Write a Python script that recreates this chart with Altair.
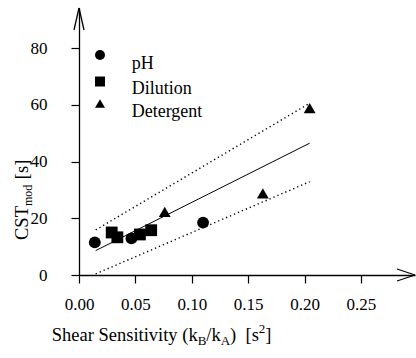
import altair as alt
import pandas as pd

# ---------------- data ----------------
groups = ["pH", "Dilution", "Detergent"]
shapes = ["circle", "square", "triangle-up"]
ph_x = [0.014, 0.0465, 0.110]
ph_y = [11.5, 12.9, 18.5]
dil_x = [0.029, 0.034, 0.054, 0.064]
dil_y = [15.0, 13.3, 14.3, 15.8]
det_x = [0.076, 0.163, 0.2045]
det_y = [22.3, 28.8, 58.9]

fit_x = [0.0148, 0.2045]
fit_y = [8.6, 46.5]
upper_y = [15.9, 60.6]
lower_y = [0.4, 32.9]

x_ticks = [0.0, 0.05, 0.10, 0.15, 0.20, 0.25]
y_ticks = [0, 20, 40, 60, 80]

# ---------------- layout ----------------
W, H = 336, 267
X_MAX, Y_MAX = 0.2979, 94.2
FONT = "Liberation Serif"

pts = pd.DataFrame(
    {"x": ph_x + dil_x + det_x,
     "y": ph_y + dil_y + det_y,
     "group": ["pH"] * len(ph_x) + ["Dilution"] * len(dil_x) + ["Detergent"] * len(det_x)}
)
fit = pd.DataFrame({"x": fit_x, "y": fit_y})
bands = pd.DataFrame({"x": fit_x + fit_x, "y": upper_y + lower_y,
                      "band": ["upper"] * 2 + ["lower"] * 2})

xs = alt.Scale(domain=[0, X_MAX], nice=False, zero=False)
ys = alt.Scale(domain=[0, Y_MAX], nice=False, zero=False)

xaxis = alt.Axis(values=x_ticks, format=".2f", title=None, grid=False,
                 labelFont=FONT, labelFontSize=17, labelColor="black",
                 tickSize=8, tickColor="black", tickWidth=1.2,
                 domainColor="black", domainWidth=1.3, labelPadding=13,
                 labelFlush=False, labelOverlap=False)
yaxis = alt.Axis(values=y_ticks, format="d", title=None, grid=False,
                 labelFont=FONT, labelFontSize=17, labelColor="black",
                 tickSize=8, tickColor="black", tickWidth=1.2,
                 domainColor="black", domainWidth=1.3, labelPadding=24,
                 labelFlush=False, labelOverlap=False)

points = alt.Chart(pts).mark_point(filled=True, size=140, opacity=1,
                                   color="black", strokeWidth=0).encode(
    x=alt.X("x:Q", scale=xs, axis=xaxis),
    y=alt.Y("y:Q", scale=ys, axis=yaxis),
    shape=alt.Shape("group:N",
                    scale=alt.Scale(domain=groups, range=shapes),
                    legend=None),
)

fit_line = alt.Chart(fit).mark_line(color="black", strokeWidth=1).encode(
    x=alt.X("x:Q", scale=xs), y=alt.Y("y:Q", scale=ys))
band_lines = alt.Chart(bands).mark_line(color="black", strokeWidth=1.4,
                                        strokeDash=[1.3, 3]).encode(
    x=alt.X("x:Q", scale=xs), y=alt.Y("y:Q", scale=ys), detail="band:N")

one = alt.Data(values=[{}])


def rule(x1, y1, x2, y2, w=1.3):
    return alt.Chart(one).mark_rule(color="black", strokeWidth=w).encode(
        x=alt.value(x1), y=alt.value(y1), x2=alt.value(x2), y2=alt.value(y2))


# open arrowheads at the ends of the axes
arrows = [rule(0, 0, -5, 22), rule(0, 0, 5, 22),
          rule(W, H, W - 18, H - 6), rule(W, H, W - 18, H + 6)]

# ---------------- text helpers ----------------
CW = {" ": 250, "(": 333, ")": 333, "/": 278, "[": 333, "]": 333,
      "S": 556, "h": 500, "e": 444, "a": 444, "r": 333, "n": 500, "s": 389,
      "i": 278, "t": 278, "v": 500, "y": 500, "k": 500, "B": 667, "A": 722,
      "C": 667, "T": 611, "m": 778, "o": 500, "d": 500, "2": 500}


def tw(s, size):
    return sum(CW.get(c, 500) for c in s) * size / 1000.0


def text(s, x, y, size, angle=0):
    return alt.Chart(one).mark_text(text=s, font=FONT, fontSize=size,
                                    color="black", align="left",
                                    baseline="alphabetic", angle=angle).encode(
        x=alt.value(x), y=alt.value(y))


# ---------------- legend (symbols left, labels slightly lower) ----------------
LEG_SYM_X, LEG_LAB_X = 21, 52.7
leg_sym_y = [47, 73.5, 95.5]
leg_lab_y = [60.5, 85.5, 109]
legend_layers = []
for g, shp, sy, ly in zip(groups, shapes, leg_sym_y, leg_lab_y):
    legend_layers.append(
        alt.Chart(one).mark_point(filled=True, size=100, opacity=1,
                                  color="black", strokeWidth=0, shape=shp)
        .encode(x=alt.value(LEG_SYM_X), y=alt.value(sy)))
    legend_layers.append(text(g, LEG_LAB_X, ly, 18))

# ---------------- axis titles with sub/superscripts ----------------
TS, SS = 18.5, 13
x_parts = [("Shear Sensitivity (k", TS, 0, 0), ("B", SS, 4, 0), ("/k", TS, 0, 0),
           ("A", SS, 4, 0), (")", TS, 0, 0), ("[s", TS, 0, 2 * 0.25 * TS),
           ("2", SS, -8, 0), ("]", TS, 0, 0)]
xt_layers = []
cx, base = -27.3, 333
for s, size, dy, gap in x_parts:
    cx += gap
    xt_layers.append(text(s, cx, base + dy, size))
    cx += tw(s, size)

YS = 18.5
y_parts = [("CST", YS, 0, 0), ("mod", 12, 4, 0), ("[s]", YS, 0, 0.3 * YS)]
yt_layers = []
cy, bx = 232, -51
for s, size, dx, gap in y_parts:
    cy -= gap
    yt_layers.append(text(s, bx + dx, cy, size, angle=270))
    cy -= tw(s, size)

chart = alt.layer(band_lines, fit_line, points, *arrows, *legend_layers,
                  *xt_layers, *yt_layers).properties(
    width=W, height=H,
    autosize=alt.AutoSizeParams(type="none"),
    padding={"left": 79, "top": 8, "right": 1, "bottom": 83},
).configure(
    background="white", font=FONT
).configure_view(
    stroke=None
).configure_axis(
    labelFont=FONT
)

chart.save("out.html", embed_options={"renderer": "svg", "actions": False})
